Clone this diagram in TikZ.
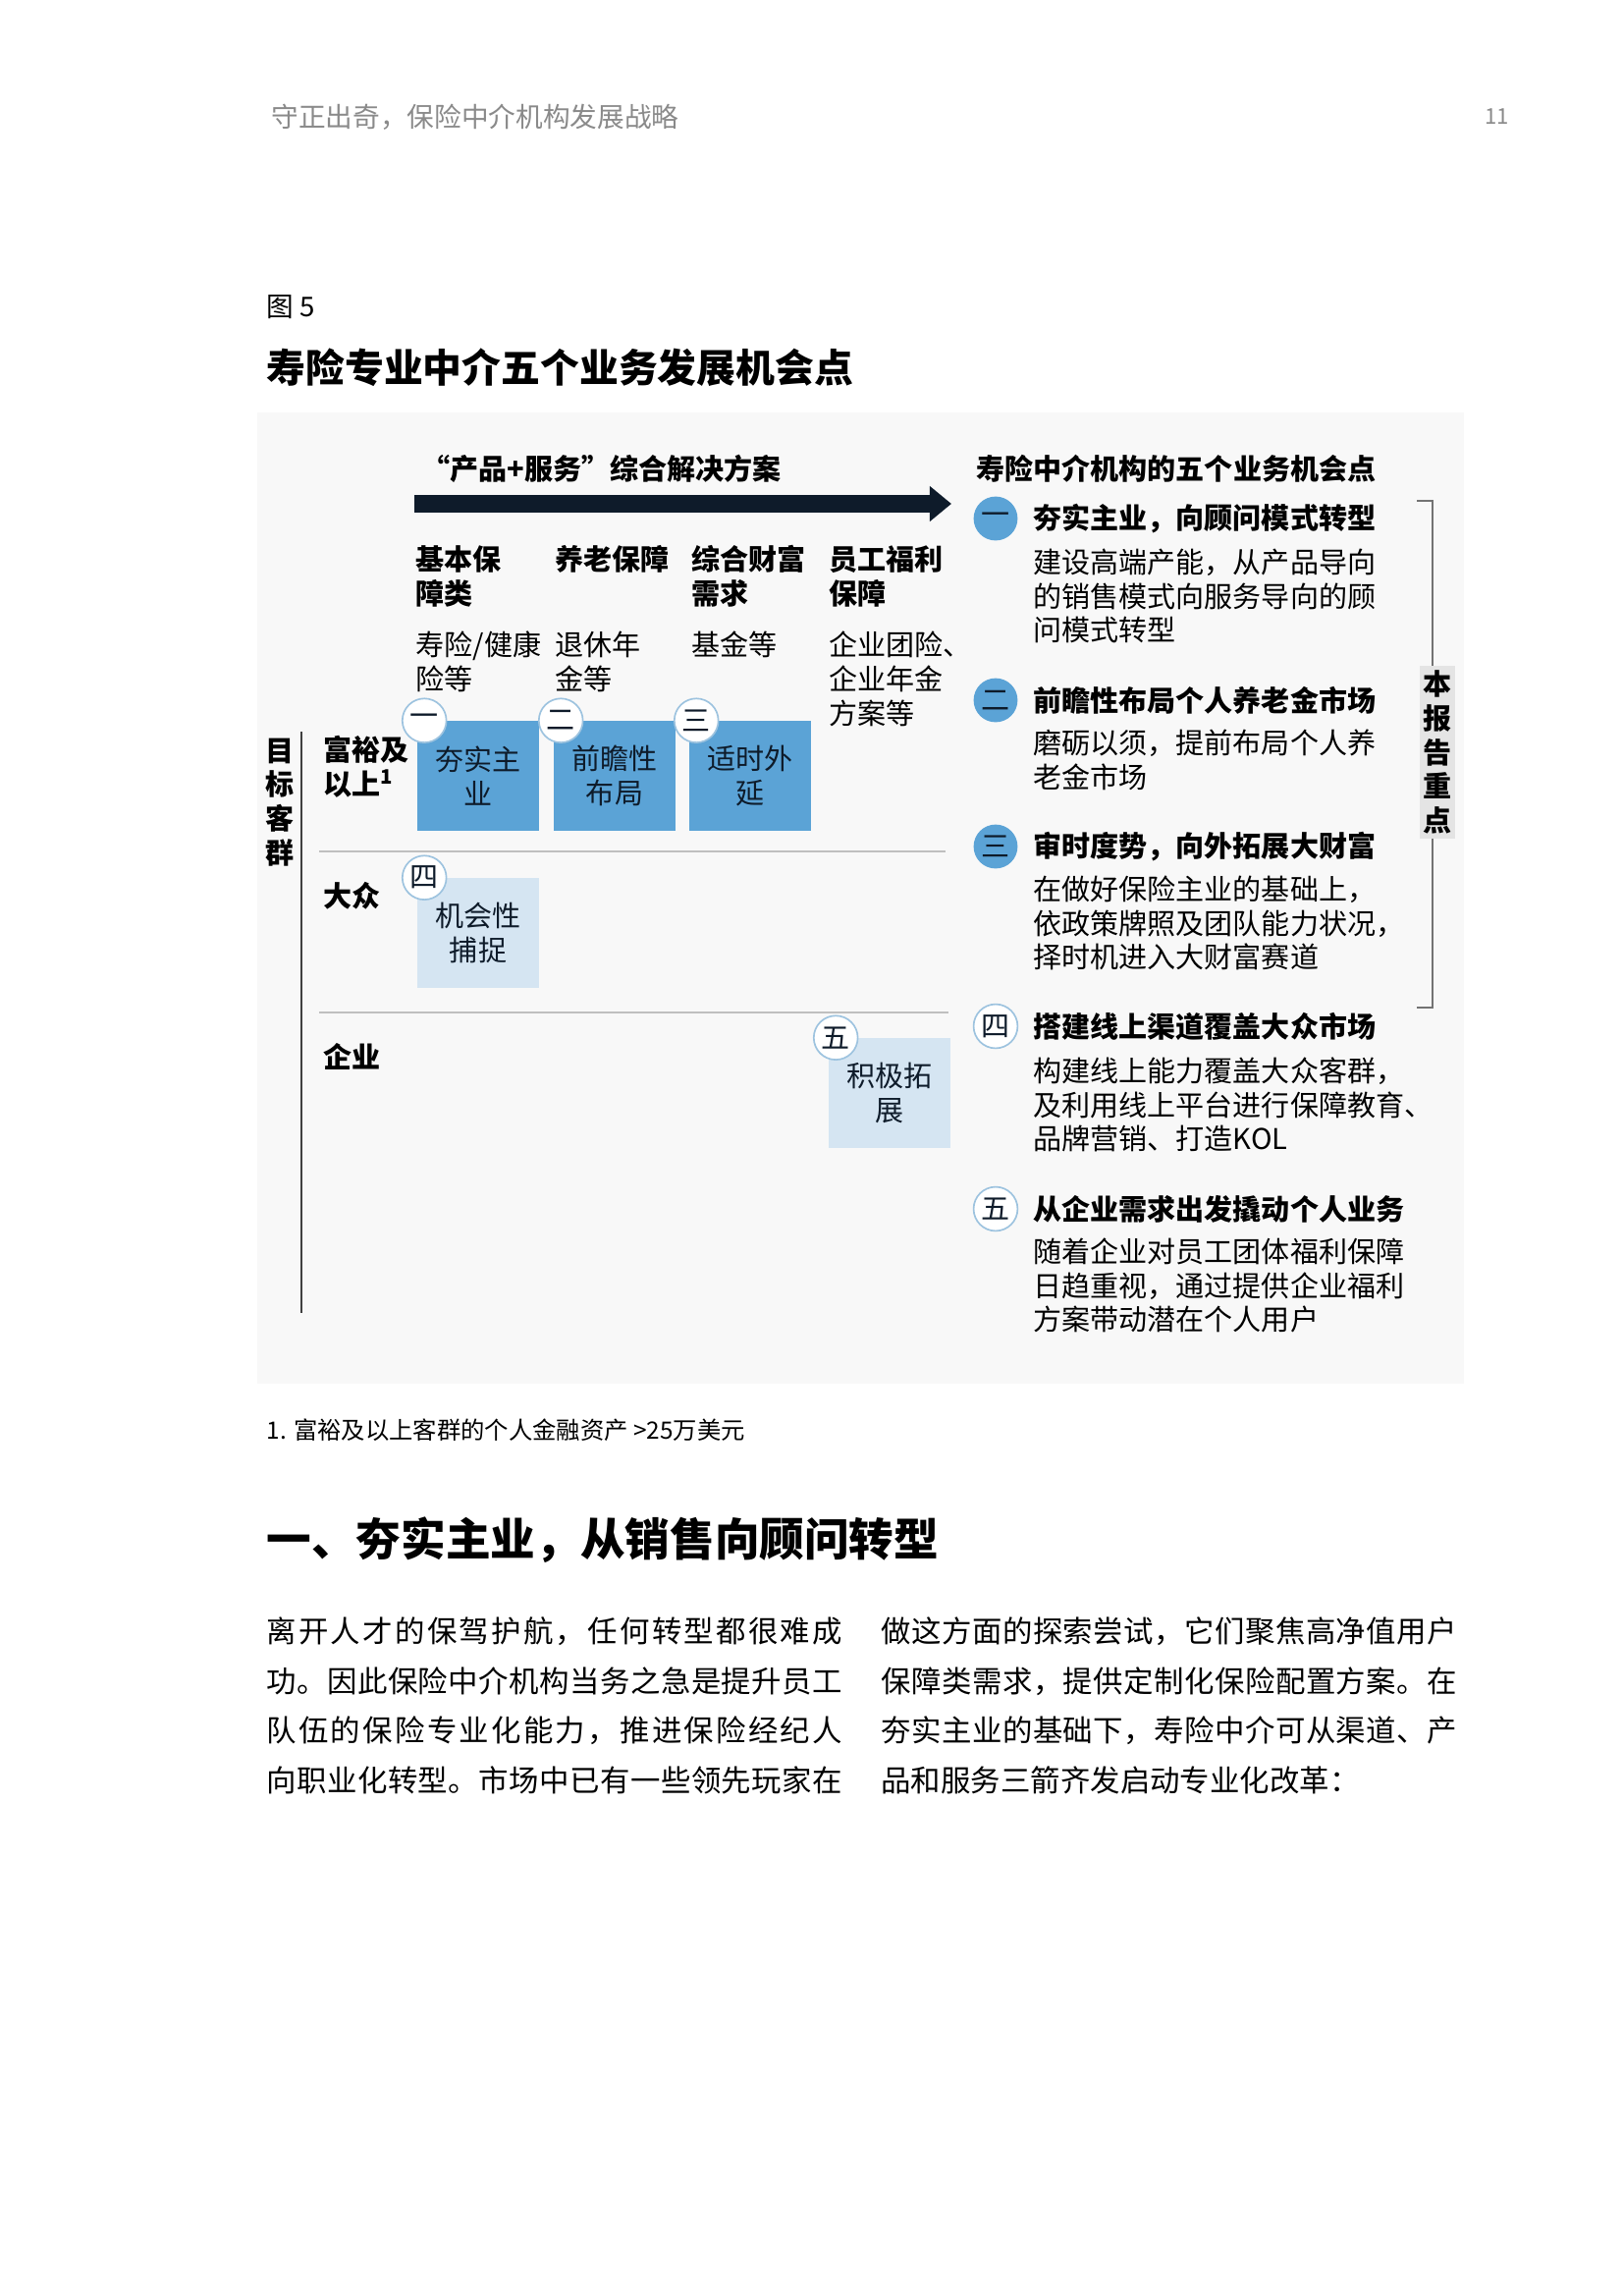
\documentclass[tikz,border=0pt]{standalone}
\usepackage{fontspec}
\setmainfont{Noto Sans CJK SC}
\usetikzlibrary{arrows.meta,calc}
\definecolor{boxblue}{HTML}{5BA3D6}
\definecolor{boxpale}{HTML}{D5E5F2}
\definecolor{ringblue}{HTML}{9DC3DF}
\definecolor{inknavy}{HTML}{0E1B2A}
\definecolor{panelgray}{HTML}{F8F8F8}
\definecolor{headgray}{HTML}{8A8A8A}
\definecolor{tabgray}{HTML}{E4E4E4}
\newcommand\figfont{\fontsize{10.5}{12.6}\selectfont}
\newcommand\bodyfont{\fontsize{11}{18.26}\selectfont}
\makeatletter
\def\spread@#1#2\@nil{#1\ifx\relax#2\relax\else\hskip 0pt plus 1fil\spread@#2\@nil\fi}
\newcommand\bodyline[1]{\makebox[212pt][s]{\spread@#1\@nil}}
\makeatother

\begin{document}
\begin{tikzpicture}[x=0.12704mm,y=-0.12704mm,
  txt/.style={anchor=west,inner sep=0pt,align=left,font=\figfont},
  hd/.style={txt,font=\figfont\bfseries},
  opbox/.style={rectangle,minimum width=45pt,minimum height=40.3pt,inner sep=0pt,align=center,font=\figfont,text=inknavy},
  numring/.style={circle,draw=ringblue,line width=0.6pt,fill=white,minimum size=16.2pt,inner sep=0pt,font=\figfont,text=inknavy},
  numdot/.style={circle,fill=boxblue,minimum size=16.2pt,inner sep=0pt,font=\figfont,text=inknavy}]
\useasboundingbox (0,0) rectangle (1653,2338);
\fill[white] (0,0) rectangle (1653,2338);
% page head
\node[txt,font=\fontsize{10}{12}\selectfont,text=headgray] (runhead) at (276,119) {守正出奇，保险中介机构发展战略};
\node[txt,font=\fontsize{8}{10}\selectfont,text=headgray] (pageno) at (1512,119) {11};
\node[txt,font=\fontsize{10}{12}\selectfont] (fignum) at (271,313) {图 5};
\node[txt,font=\fontsize{14.4}{17}\selectfont\bfseries] (figtitle) at (271,374) {寿险专业中介五个业务发展机会点};
% figure panel
\fill[panelgray] (262,420) rectangle (1491,1409);
\node[hd] (sollabel) at (429,477) {“产品+服务”综合解决方案};
\coordinate (solS) at (422,513);
\coordinate (solE) at (969,513);
\draw[line width=6.8pt,inknavy,-{Triangle[length=8pt,width=12.6pt]}] (solS) -- (solE);
% columns
\node[hd] (colA) at (423,587) {基本保\\障类};
\node[hd] (colB) at (565,569) {养老保障};
\node[hd] (colC) at (704,587) {综合财富\\需求};
\node[hd] (colD) at (844,587) {员工福利\\保障};
\node[txt] (subA) at (423,674) {寿险/健康\\险等};
\node[txt] (subB) at (565,674) {退休年\\金等};
\node[txt] (subC) at (704,656) {基金等};
\node[txt] (subD) at (844,691) {企业团险、\\企业年金\\方案等};
% rows
\coordinate (axT) at (307,745);
\coordinate (axB) at (307,1337);
\draw[line width=0.8pt,black!75] (axT) -- (axB);
\node[hd,anchor=center,align=center] (axis) at (285,817) {目\\标\\客\\群};
\node[hd] (rowA) at (329,781) {富裕及\\以上\textsuperscript{1}};
\node[hd] (rowB) at (329,912) {大众};
\node[hd] (rowC) at (329,1076) {企业};
\draw[black!25,line width=0.5pt] (325,867) -- (963,867);
\draw[black!25,line width=0.5pt] (325,1031) -- (966,1031);
% opportunity boxes
\node[opbox,fill=boxblue] (b1) at (487,790) {夯实主\\业};
\node[opbox,fill=boxblue] (b2) at (626,790) {前瞻性\\布局};
\node[opbox,fill=boxblue] (b3) at (764,790) {适时外\\延};
\node[opbox,fill=boxpale] (b4) at (487,950) {机会性\\捕捉};
\node[opbox,fill=boxpale] (b5) at (906,1113) {积极拓\\展};
\node[numring] (r1) at ($(b1.north west)+(8,0)$) {一};
\node[numring] (r2) at ($(b2.north west)+(8,0)$) {二};
\node[numring] (r3) at ($(b3.north west)+(8,0)$) {三};
\node[numring] (r4) at ($(b4.north west)+(8,0)$) {四};
\node[numring] (r5) at ($(b5.north west)+(8,0)$) {五};
% five points
\node[hd] (optitle) at (994,477) {寿险中介机构的五个业务机会点};
\node[numdot] (d1) at (1014,528) {一};
\node[hd] (t1) at (1052,528) {夯实主业，向顾问模式转型};
\node[txt] (x1) at (1052,607) {建设高端产能，从产品导向\\的销售模式向服务导向的顾\\问模式转型};
\node[numdot] (d2) at (1014,713) {二};
\node[hd] (t2) at (1052,713) {前瞻性布局个人养老金市场};
\node[txt] (x2) at (1052,774) {磨砺以须，提前布局个人养\\老金市场};
\node[numdot] (d3) at (1014,862) {三};
\node[hd] (t3) at (1052,862) {审时度势，向外拓展大财富};
\node[txt] (x3) at (1052,940) {在做好保险主业的基础上，\\依政策牌照及团队能力状况，\\择时机进入大财富赛道};
\node[numring] (d4) at (1014,1045) {四};
\node[hd] (t4) at (1052,1045) {搭建线上渠道覆盖大众市场};
\node[txt] (x4) at (1052,1125) {构建线上能力覆盖大众客群，\\及利用线上平台进行保障教育、\\品牌营销、打造KOL};
\node[numring] (d5) at (1014,1231) {五};
\node[hd] (t5) at (1052,1231) {从企业需求出发撬动个人业务};
\node[txt] (x5) at (1052,1309) {随着企业对员工团体福利保障\\日趋重视，通过提供企业福利\\方案带动潜在个人用户};
% bracket
\coordinate (brT) at (1443,510);
\coordinate (brTR) at (1459,510);
\coordinate (brBR) at (1459,1026);
\coordinate (brB) at (1443,1026);
\draw[black!55,line width=0.6pt] (brT) -- (brTR) -- (brBR) -- (brB);
\node[fill=tabgray,minimum width=13pt,minimum height=63.4pt,inner sep=0pt,align=center,font=\figfont\bfseries] (focus) at (1464,766) {本\\报\\告\\重\\点};
% below the figure
\node[txt,font=\fontsize{8.8}{10}\selectfont] (fnote) at (271,1456) {1. 富裕及以上客群的个人金融资产 >25万美元};
\node[txt,font=\fontsize{16.5}{19}\selectfont\bfseries] (sechead) at (271,1568) {一、夯实主业，从销售向顾问转型};
\node[txt,font=\bodyfont] (colL) at (271,1737) {\bodyline{离开人才的保驾护航，任何转型都很难成}\\\bodyline{功。因此保险中介机构当务之急是提升员工}\\\bodyline{队伍的保险专业化能力，推进保险经纪人}\\\bodyline{向职业化转型。市场中已有一些领先玩家在}};
\node[txt,font=\bodyfont] (colR) at (897,1737) {\bodyline{做这方面的探索尝试，它们聚焦高净值用户}\\\bodyline{保障类需求，提供定制化保险配置方案。在}\\\bodyline{夯实主业的基础下，寿险中介可从渠道、产}\\品和服务三箭齐发启动专业化改革：};
\end{tikzpicture}
\end{document}
